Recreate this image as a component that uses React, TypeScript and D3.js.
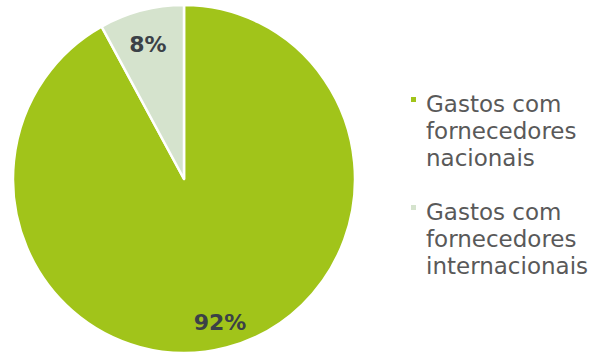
import React from "react";
import * as d3 from "d3";

const categories = ["Gastos com fornecedores nacionais", "Gastos com fornecedores internacionais"];
const values = [92, 8];
const labels = ["92%", "8%"];
const legendLines = [["Gastos com", "fornecedores", "nacionais"], ["Gastos com", "fornecedores", "internacionais"]];
const colors = ["#a1c41a", "#d5e3cd"];

export default function App() {
  const W = 590, H = 356;
  const cx = 184, cy = 179, r = 171, sy = 174 / 171;
  const pie = d3.pie<number>().sort(null).startAngle(0).endAngle(2 * Math.PI);
  const arcs = pie(values);
  const arc = d3.arc<d3.PieArcDatum<number>>().innerRadius(0).outerRadius(r);
  const labelPos = [
    { x: 220, y: 324 },
    { x: 148, y: 46 },
  ];
  return (
    <svg width={W} height={H} style={{ position: "absolute", left: 0, top: 0, background: "#fff" }}>
      <g transform={`translate(${cx},${cy}) scale(1,${sy})`}>
        {arcs.map((a, i) => (
          <path key={categories[i]} d={arc(a) || ""} fill={colors[i]} stroke="#fff" strokeWidth={2.5} strokeLinejoin="round" />
        ))}
      </g>
      {labels.map((l, i) => (
        <text key={l} x={labelPos[i].x} y={labelPos[i].y} textAnchor="middle" dominantBaseline="middle"
          fontFamily="DejaVu Sans" fontWeight="bold" fontSize={22} fill="#3b4147">{l}</text>
      ))}
      {legendLines.map((lines, i) => (
        <g key={i} transform={`translate(0,${i * 108})`}>
          <rect x={411} y={97} width={5} height={5} fill={colors[i]} />
          {lines.map((t, j) => (
            <text key={j} x={426} y={112 + j * 27} fontFamily="DejaVu Sans" fontSize={23} fill="#595959">{t}</text>
          ))}
        </g>
      ))}
    </svg>
  );
}
